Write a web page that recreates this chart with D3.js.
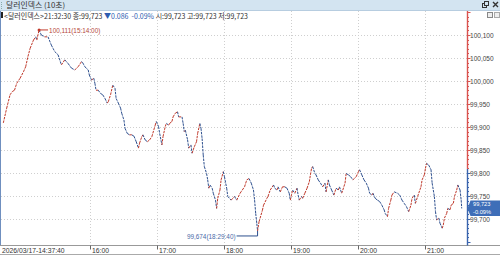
<!DOCTYPE html>
<html>
<head>
<meta charset="utf-8">
<script src="https://cdn.jsdelivr.net/npm/d3@7"></script>
<style>
  html, body { margin: 0; padding: 0; background: #fff; }
  svg { display: block; font-family: "Liberation Sans", Arial, sans-serif; }
</style>
</head>
<body>
<svg id="chart" width="500" height="255"></svg>
<script>
// Price readings (10-sec chart)
const times = [
  "14:42","14:45","14:48","14:50","14:52","14:54","14:57","15:00","15:02","15:04","15:06","15:09","15:11","15:12","15:14","15:16","15:19","15:22","15:25","15:28",
  "15:31","15:34","15:37","15:40","15:43","15:46","15:49","15:52","15:53","15:55","15:58","15:59","16:01","16:03","16:04","16:05","16:07","16:09","16:11","16:13",
  "16:15","16:16","16:18","16:20","16:22","16:23","16:25","16:27","16:28","16:30","16:31","16:33","16:35","16:37","16:39","16:41","16:43","16:44","16:46","16:47",
  "16:49","16:51","16:53","16:55","16:58","16:59","17:01","17:02","17:04","17:05","17:07","17:08","17:10","17:11","17:13","17:14","17:16","17:18","17:19","17:22",
  "17:23","17:24","17:25","17:27","17:28","17:30","17:31","17:33","17:35","17:36","17:38","17:39","17:40","17:41","17:42","17:44","17:45","17:46","17:47","17:49",
  "17:50","17:52","17:53","17:54","17:56","17:57","17:59","18:00","18:02","18:03","18:06","18:09","18:11","18:14","18:16","18:18","18:20","18:22","18:24","18:26",
  "18:27","18:28","18:29","18:29:40","18:31","18:34","18:35","18:38","18:39","18:41","18:44","18:45","18:47","18:48","18:50","18:52","18:54","18:56","18:58","18:59",
  "19:01","19:03","19:05","19:06","19:07","19:09","19:10","19:12","19:14","19:16","19:17","19:18","19:19","19:21","19:22","19:24","19:26","19:28","19:30","19:31",
  "19:33","19:34","19:36","19:38","19:40","19:42","19:43","19:45","19:46","19:48","19:49","19:51","19:53","19:55","19:58","20:00","20:01","20:03","20:05","20:07",
  "20:09","20:10","20:12","20:13","20:15","20:17","20:19","20:21","20:23","20:24","20:26","20:27","20:29","20:30","20:32","20:35","20:37","20:39","20:41","20:43",
  "20:45","20:47","20:48","20:50","20:51","20:53","20:56","20:57","20:59","21:00","21:01","21:03","21:05","21:06","21:08","21:09","21:10","21:12","21:13","21:15",
  "21:16","21:17","21:19","21:20","21:22","21:23","21:25","21:26","21:28","21:29","21:31","21:32","21:32:30"
];
const prices = [
  99909,99941,99970,99977,99980,99995,100006,100020,100031,100053,100071,100089,100096,100089,100111,100100,100096,100096,100078,100064,
  100057,100035,100046,100038,100028,100024,100031,100042,100040,100031,100024,100013,100002,100006,99995,99980,99980,99973,99970,99962,
  99952,99955,99970,99991,99984,99962,99952,99941,99930,99915,99897,99886,99883,99883,99880,99868,99854,99865,99879,99883,
  99872,99868,99872,99879,99904,99912,99901,99886,99861,99879,99901,99908,99904,99908,99912,99922,99930,99933,99922,99922,
  99908,99890,99893,99872,99854,99861,99843,99857,99868,99886,99908,99897,99875,99839,99814,99799,99785,99767,99774,99767,
  99756,99741,99723,99745,99763,99785,99803,99792,99767,99749,99741,99749,99741,99756,99763,99770,99785,99788,99778,99763,
  99741,99712,99690,99674,99694,99719,99730,99745,99749,99763,99774,99767,99763,99770,99759,99770,99770,99767,99756,99741,
  99763,99756,99767,99752,99741,99749,99745,99756,99767,99781,99796,99810,99814,99799,99796,99785,99778,99770,99778,99759,
  99785,99774,99763,99752,99767,99763,99770,99756,99763,99778,99799,99796,99792,99785,99792,99803,99807,99796,99785,99778,
  99767,99756,99752,99756,99745,99741,99738,99730,99720,99712,99705,99723,99741,99752,99759,99756,99752,99741,99734,99727,
  99716,99730,99745,99752,99734,99749,99770,99785,99796,99810,99821,99817,99807,99778,99749,99716,99698,99702,99691,99680,
  99687,99702,99712,99723,99720,99730,99734,99749,99763,99774,99763,99741,99723
];

const yTicks = [99700, 99750, 99800, 99850, 99900, 99950, 100000, 100050, 100100];
const xTicks = ["16:00", "17:00", "18:00", "19:00", "20:00", "21:00"];
const startLabel = "2026/03/17-14:37:40";
const domainTimes = ["14:37:40", "21:37:40"];
const prevClose = 99809;
const lastPrice = 99723;
const changePct = "-0.09%";
const title = "달러인덱스 (10초)";
const infoParts = ["<달러인덱스>21:32:30 종:99,723 ", "▼0.086  -0.09%", " 시:99,723 고:99,723 저:99,723"];

// === Setup ===
const W = 500, H = 255;
const plotTop = 11, plotBottom = 245.5, plotRight = 467.5;
const RED = "#c0392b", BLUE = "#2d4f8e";

const parse = s => d3.timeParse(s.length > 5 ? "%H:%M:%S" : "%H:%M")(s);
const data = times.map((t, i) => ({ t: parse(t), v: prices[i] }));

const svg = d3.select("#chart");

const x = d3.scaleTime()
  .domain(domainTimes.map(parse))
  .range([-1.5, plotRight]);

const y = d3.scaleLinear()
  .domain([99700, 100100])
  .range([219, 35]);

const fmt = d3.format(",");

// narrow text helper (the HTS font is condensed)
function ntext(g, tx, ty, str, opts = {}) {
  return g.append("text")
    .attr("transform", `translate(${tx},${ty}) scale(${opts.sx || 0.85},1)`)
    .attr("font-size", opts.size || 8)
    .attr("fill", opts.fill || "#333")
    .attr("text-anchor", opts.anchor || "start")
    .attr("font-family", opts.family || null)
    .text(str);
}

// === Header ===
svg.append("rect").attr("x", 0).attr("y", 0).attr("width", W).attr("height", 10).attr("fill", "#d3e4f1");
svg.append("line").attr("x1", 0).attr("x2", W).attr("y1", 10.5).attr("y2", 10.5).attr("stroke", "#b7cde0");
[2, 4, 6, 8].forEach(yy => svg.append("rect").attr("x", 1).attr("y", yy).attr("width", 1).attr("height", 1).attr("fill", "#8aa"));
ntext(svg, 6, 7.5, title, { size: 7.5, sx: 1.05, family: "'Noto Sans CJK KR', sans-serif", fill: "#333" });

// header icons
svg.append("rect").attr("x", 482.5).attr("y", 3.5).attr("width", 4).attr("height", 4).attr("fill", "none").attr("stroke", "#333");
svg.append("rect").attr("x", 484.5).attr("y", 1.5).attr("width", 4).attr("height", 4).attr("fill", "#d3e4f1").attr("stroke", "#333");
svg.append("path").attr("d", "M493,2 L498,7 M498,2 L493,7").attr("stroke", "#333").attr("stroke-width", 1.4);

// info line: pieces laid side by side, then squeezed to the reference width
svg.append("rect").attr("x", 1).attr("y", 12).attr("width", 2).attr("height", 6).attr("fill", "#222");
const info = svg.append("g");
let cursor = 0;
infoParts.forEach(part => {
  const t = info.append("text")
    .attr("x", cursor).attr("y", 0)
    .attr("font-size", 7.5)
    .attr("font-family", "'Noto Sans CJK KR', sans-serif")
    .attr("fill", part.startsWith("▼") ? "#2f5db0" : "#333")
    .attr("xml:space", "preserve")
    .style("white-space", "pre")
    .text(part);
  cursor += t.node().getComputedTextLength();
});
info.attr("transform", `translate(4,18.5) scale(${244 / cursor},1)`);
svg.append("rect").attr("x", 487.5).attr("y", 12.5).attr("width", 5).attr("height", 5).attr("fill", "#eee").attr("stroke", "#888");
svg.append("rect").attr("x", 494.5).attr("y", 12.5).attr("width", 5).attr("height", 5).attr("fill", "#eee").attr("stroke", "#aaa");

// === Grid ===
const grid = svg.append("g");
grid.selectAll(".hg").data(yTicks).enter().append("line")
  .attr("x1", 1).attr("x2", plotRight)
  .attr("y1", d => Math.round(y(d)) + 0.5).attr("y2", d => Math.round(y(d)) + 0.5)
  .attr("stroke", "#cfcfcf").attr("stroke-dasharray", "1,2");
grid.selectAll(".vg").data(xTicks).enter().append("line")
  .attr("x1", d => Math.round(x(parse(d))) + 0.5).attr("x2", d => Math.round(x(parse(d))) + 0.5)
  .attr("y1", plotTop).attr("y2", plotBottom)
  .attr("stroke", "#cfcfcf").attr("stroke-dasharray", "1,2");

// left border
svg.append("line").attr("x1", 0.5).attr("x2", 0.5).attr("y1", plotTop).attr("y2", plotBottom)
  .attr("stroke", "#6f8fbf");

// bottom axis
svg.append("line").attr("x1", 0).attr("x2", W).attr("y1", plotBottom).attr("y2", plotBottom).attr("stroke", "#999");
svg.append("line").attr("x1", 0).attr("x2", W).attr("y1", 254.5).attr("y2", 254.5).attr("stroke", "#aaa");
const xAxis = svg.append("g");
xAxis.selectAll("line").data(xTicks).enter().append("line")
  .attr("x1", d => Math.round(x(parse(d))) + 0.5).attr("x2", d => Math.round(x(parse(d))) + 0.5)
  .attr("y1", plotBottom).attr("y2", plotBottom + 4)
  .attr("stroke", "#666");
xTicks.forEach(d => ntext(xAxis, Math.round(x(parse(d))) + 2, 253, d, { size: 8 }));
ntext(xAxis, 2, 253, startLabel, { size: 8 });

// === Right axis ===
const yPrev = y(prevClose);
svg.append("line").attr("x1", plotRight).attr("x2", plotRight).attr("y1", plotTop).attr("y2", yPrev)
  .attr("stroke", "#d9534f").attr("stroke-width", 1.4);
svg.append("line").attr("x1", plotRight).attr("x2", plotRight).attr("y1", yPrev).attr("y2", plotBottom)
  .attr("stroke", "#3a64ad").attr("stroke-width", 1.4);
const minorTicks = d3.range(99650, 100151, 10);
svg.selectAll(".ymt").data(minorTicks.filter(d => y(d) > plotTop && y(d) < plotBottom)).enter().append("line")
  .attr("x1", plotRight).attr("x2", d => plotRight + (d % 50 === 0 ? 3 : 1.5))
  .attr("y1", d => Math.round(y(d)) + 0.5).attr("y2", d => Math.round(y(d)) + 0.5)
  .attr("stroke", d => d >= prevClose ? "#d9534f" : "#3a64ad");
yTicks.forEach(d => ntext(svg, 470, y(d) + 3, fmt(d), { size: 7.6, sx: 0.86, fill: "#444" }));

// === Price line (red when rising, blue when falling) ===
const segs = d3.pairs(data);
svg.append("g").selectAll("line").data(segs).enter().append("line")
  .attr("x1", d => x(d[0].t)).attr("y1", d => y(d[0].v))
  .attr("x2", d => x(d[1].t)).attr("y2", d => y(d[1].v))
  .attr("stroke", d => d[1].v >= d[0].v ? RED : BLUE)
  .attr("stroke-width", 1)
  .attr("stroke-dasharray", "2.5,1");

// === Max / min annotations ===
const tf = d3.timeFormat("%H:%M:%S");
const hi = data[d3.maxIndex(data, d => d.v)];
const lo = data[d3.minIndex(data, d => d.v)];
const hx = x(hi.t), hy = y(hi.v);
svg.append("circle").attr("cx", hx).attr("cy", hy).attr("r", 1.5).attr("fill", RED);
svg.append("line").attr("x1", hx).attr("x2", hx + 9).attr("y1", hy).attr("y2", hy).attr("stroke", RED);
ntext(svg, hx + 10, hy + 3, `${fmt(hi.v)}(${tf(hi.t)})`, { size: 8, sx: 0.8, fill: "#b5483c" });

const lx = x(lo.t), ly = y(lo.v);
svg.append("path").attr("d", `M${lx},${ly} L${lx},${ly + 5} L${lx - 21},${ly + 5}`)
  .attr("fill", "none").attr("stroke", BLUE);
ntext(svg, lx - 22, ly + 8, `${fmt(lo.v)}(${tf(lo.t)})`, { size: 8, sx: 0.8, fill: "#4a6aa8", anchor: "end" });

// === Current price box ===
const py = y(lastPrice);
svg.append("path")
  .attr("d", `M${plotRight},${py} L${plotRight + 3},${py - 8} L${W},${py - 8} L${W},${py + 7.5} L${plotRight + 3},${py + 7.5} Z`)
  .attr("fill", "#3e6eb8");
ntext(svg, 473, py - 2.2, fmt(lastPrice), { size: 6, sx: 0.95, fill: "#fff" });
ntext(svg, 473, py + 5.3, changePct, { size: 6, sx: 0.95, fill: "#fff" });
</script>
</body>
</html>
